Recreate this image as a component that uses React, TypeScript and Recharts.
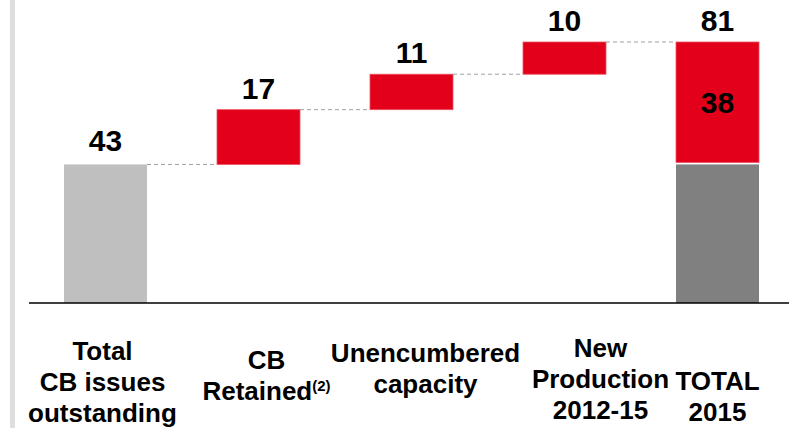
import { Bar, BarChart, Cell, LabelList, XAxis, YAxis } from "recharts";

const CATEGORIES = ["Total CB issues outstanding", "CB Retained", "Unencumbered capacity", "New Production 2012-15", "TOTAL 2015"];
const TICK_LINES = [
  ["Total", "CB issues", "outstanding"],
  ["CB", "Retained"],
  ["Unencumbered", "capacity"],
  ["New", "Production", "2012-15"],
  ["TOTAL", "2015"],
];
const TICK_NOTES = ["", "(2)", "", "", ""];
const START_VALUE = 43;
const STEPS = [17, 11, 10];
const TOTAL = 81;

const ROJO = "#e2001a";
const GRIS_CLARO = "#bfbfbf";
const GRIS_OSCURO = "#808080";
const FONT = "'Liberation Sans', Arial, Helvetica, sans-serif";

const W = 789;
const H = 428;
const BAR = 83;
const BAND = 153;
const GAP = BAND - BAR;
const TICK_DX = [-3, 8, 14, 36, 0];
const TICK_DY = [57, 66, 59, 54, 87];
const LINE_H = 31;

const rows = CATEGORIES.map((name, i) => {
  if (i === 0) return { name, base: 0, gray: START_VALUE, red: 0 };
  if (i === CATEGORIES.length - 1) return { name, base: 0, gray: START_VALUE, red: TOTAL - START_VALUE };
  const before = STEPS.slice(0, i - 1).reduce((a, b) => a + b, 0);
  return { name, base: START_VALUE + before, gray: 0, red: STEPS[i - 1] };
});

function GrayShape(p: any) {
  const { x, y, width, height, index, fill } = p;
  if (!height) return null;
  return (
    <g>
      <rect x={x} y={y} width={width} height={height} fill={fill} />
      {index === 0 && (
        <line x1={x + width} x2={x + width + GAP} y1={y} y2={y} stroke="#a0a0a0" strokeDasharray="4 3" />
      )}
    </g>
  );
}

function RedShape(p: any) {
  const { x, y, width, height, index } = p;
  if (!height) return null;
  const last = index === CATEGORIES.length - 1;
  return (
    <g>
      <rect x={x} y={y} width={width} height={last ? height - 2 : height} fill={ROJO} stroke="#ee5060" strokeWidth={0.8} />
      {!last && (
        <line x1={x + width} x2={x + width + GAP} y1={y} y2={y} stroke="#a0a0a0" strokeDasharray="4 3" />
      )}
    </g>
  );
}

const labelStyle = { fontFamily: FONT, fontWeight: 700, fontSize: 30, fill: "#000" };

function RedLabel(p: any) {
  const { x, y, width, height, value, index } = p;
  if (!value) return null;
  const cx = x + width / 2;
  if (index === CATEGORIES.length - 1) {
    return (
      <g>
        <text x={cx} y={y - 11} textAnchor="middle" {...labelStyle}>{TOTAL}</text>
        <text x={cx} y={y + height / 2 + 10} textAnchor="middle" {...labelStyle}>{value}</text>
      </g>
    );
  }
  return <text x={cx} y={y - 11} textAnchor="middle" {...labelStyle}>{value}</text>;
}

function GrayLabel(p: any) {
  const { x, y, width, value, index } = p;
  if (index !== 0 || !value) return null;
  return <text x={x + width / 2} y={y - 13} textAnchor="middle" {...labelStyle}>{value}</text>;
}

function Tick(p: any) {
  const { x, y, payload } = p;
  const i = p.index ?? CATEGORIES.indexOf(payload.value);
  const lines = TICK_LINES[i] || [];
  const cx = x + TICK_DX[i];
  return (
    <text textAnchor="middle" fontFamily={FONT} fontWeight={700} fontSize={26} fill="#000">
      {lines.map((l, k) => (
        <tspan key={k} x={cx} y={y + TICK_DY[i] + k * LINE_H}>
          {l}
          {k === lines.length - 1 && TICK_NOTES[i] ? (
            <tspan fontSize={15} dy={-9}>{TICK_NOTES[i]}</tspan>
          ) : null}
        </tspan>
      ))}
    </text>
  );
}

export default function App() {
  return (
    <div style={{ position: "absolute", left: 0, top: 0, width: W, height: H, background: "#fff", overflow: "hidden" }}>
      <BarChart width={W} height={H} data={rows} margin={{ top: 13, right: -5, left: 29, bottom: 0 }} barSize={BAR}>
        <XAxis
          dataKey="name"
          interval={0}
          height={125}
          tickLine={false}
          tickSize={0}
          tickMargin={0}
          axisLine={{ stroke: "#000", strokeWidth: 1.5 }}
          tick={<Tick />}
        />
        <YAxis hide domain={[0, 90]} />
        <Bar dataKey="base" stackId="a" fill="transparent" isAnimationActive={false} />
        <Bar dataKey="gray" stackId="a" shape={<GrayShape />} isAnimationActive={false}>
          {rows.map((_, i) => (
            <Cell key={i} fill={i === 0 ? GRIS_CLARO : GRIS_OSCURO} />
          ))}
          <LabelList dataKey="gray" content={<GrayLabel />} />
        </Bar>
        <Bar dataKey="red" stackId="a" shape={<RedShape />} isAnimationActive={false}>
          <LabelList dataKey="red" content={<RedLabel />} />
        </Bar>
      </BarChart>
      <div style={{ position: "absolute", left: 10, top: 0, width: 5, height: H, background: "#dedede" }} />
    </div>
  );
}
